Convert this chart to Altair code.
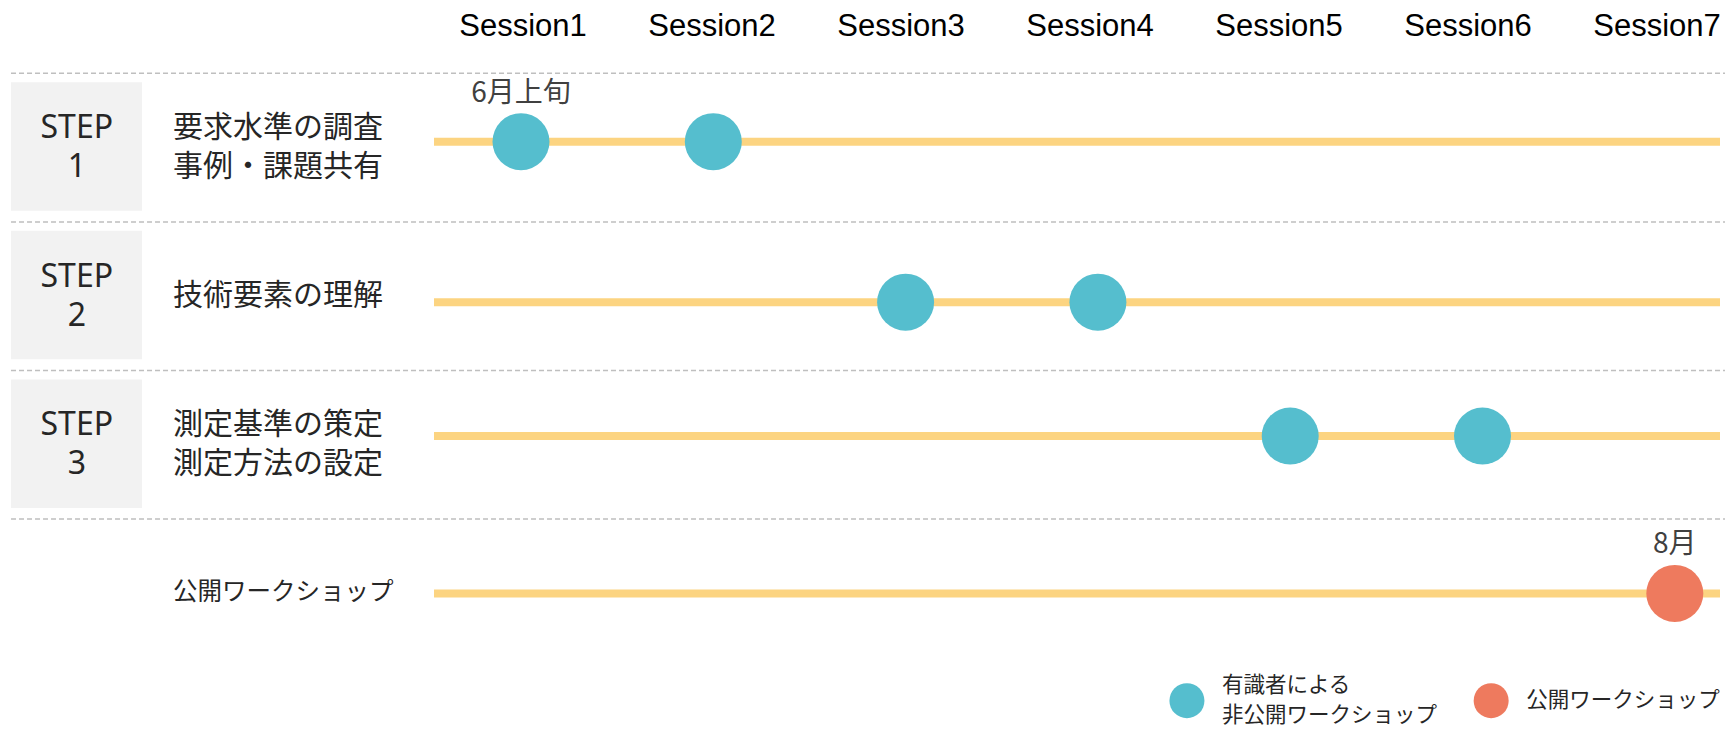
import altair as alt
import pandas as pd

# ---------------- data ----------------
sessions = ["Session1", "Session2", "Session3", "Session4", "Session5", "Session6", "Session7"]
session_index = [1, 2, 3, 4, 5, 6, 7]

row_index = [1, 2, 3, 4]
step_labels = ["STEP\n1", "STEP\n2", "STEP\n3", ""]
row_titles = ["要求水準の調査\n事例・課題共有", "技術要素の理解", "測定基準の策定\n測定方法の設定", "公開ワークショップ"]

event_session = [1, 2, 3, 4, 5, 6, 7]
event_row = [1, 1, 2, 2, 3, 3, 4]
event_kind = ["有識者による\n非公開ワークショップ"] * 6 + ["公開ワークショップ"]
event_note = ["6月上旬", "", "", "", "", "", "8月"]

legend_labels = ["有識者による\n非公開ワークショップ", "公開ワークショップ"]
legend_colors = ["#55BECE", "#EE7A5E"]

# ---------------- layout (scale units) ----------------
PX_PER_ROW = 148.6
X_DOMAIN = [-1.7093, 7.2610]
Y_DOMAIN = [0.0067, 4.9125]
BOX_X = (-1.652, -0.971)
STEP_X = -1.310
TITLE_X = -0.8097
LINE_X = (0.5476, 7.235)
SEP_X = (-1.652, 7.30)
HEADER_Y = 0.1864
HEADER_X0, HEADER_STEP = 1.0104, 0.98284
LEGEND_Y = 4.722
LEGEND_X = [4.463, 6.045]
LANE_SHIFT = "[-0.040, 0.040, -0.059, 0.0]"   # timeline offset inside each row
ROW_LH = 39
LEG_LH = 30

xs = alt.Scale(domain=X_DOMAIN, nice=False, zero=False)
ys = alt.Scale(domain=Y_DOMAIN, nice=False, zero=False, reverse=True)
cscale = alt.Scale(domain=legend_labels, range=legend_colors)

rows = pd.DataFrame({"row": row_index, "step": step_labels, "title": row_titles})
events = pd.DataFrame({"session": event_session, "row": event_row,
                       "kind": event_kind, "note": event_note})
header = pd.DataFrame({"i": session_index, "label": sessions})
legend = pd.DataFrame({"label": legend_labels, "lx": LEGEND_X})

base_rows = alt.Chart(rows)
lane = f"datum.row + {LANE_SHIFT}[datum.row - 1]"


# y of first line so that a multi-line block is centred on the anchor
def centred(field, lh, anchor):
    return (f"{anchor} - (length(split(datum.{field}, '\\n')) - 1) * "
            f"{lh / PX_PER_ROW / 2}")


separators = base_rows.mark_rule(stroke="#BFBFBF", strokeWidth=1.5, strokeDash=[5, 3]).transform_calculate(
    sy="datum.row - 0.5"
).encode(
    y=alt.Y("sy:Q", scale=ys, axis=None),
    x=alt.X(datum=SEP_X[0], scale=xs, axis=None),
    x2=alt.X2(datum=SEP_X[1]),
)

boxes = base_rows.transform_filter("datum.row <= 3").transform_calculate(
    y0="datum.row - 0.44", y1="datum.row + 0.425"
).mark_rect(fill="#F2F2F2").encode(
    x=alt.X(datum=BOX_X[0], scale=xs, axis=None),
    x2=alt.X2(datum=BOX_X[1]),
    y=alt.Y("y0:Q", scale=ys, axis=None),
    y2="y1:Q",
)

step_text = base_rows.transform_filter("datum.row <= 3").transform_calculate(
    ty=centred("step", ROW_LH, "datum.row")
).mark_text(
    font="Noto Sans", fontSize=32, lineBreak="\n", lineHeight=ROW_LH,
    color="#262626", align="center", baseline="middle"
).encode(
    x=alt.X(datum=STEP_X, scale=xs, axis=None),
    y=alt.Y("ty:Q", scale=ys, axis=None),
    text="step:N",
)

titles = base_rows.transform_calculate(
    ty=centred("title", ROW_LH, "datum.row")
).mark_text(
    font="Noto Sans CJK JP", lineBreak="\n", lineHeight=ROW_LH,
    color="#262626", align="left", baseline="middle"
).encode(
    x=alt.X(datum=TITLE_X, scale=xs, axis=None),
    y=alt.Y("ty:Q", scale=ys, axis=None),
    text="title:N",
    size=alt.condition("datum.row == 4", alt.value(24.5), alt.value(30)),
)

lines = base_rows.transform_calculate(ly=lane).mark_rule(
    stroke="#FCD481", strokeWidth=8, strokeCap="butt"
).encode(
    x=alt.X(datum=LINE_X[0], scale=xs, axis=None),
    x2=alt.X2(datum=LINE_X[1]),
    y=alt.Y("ly:Q", scale=ys, axis=None),
)

ev = alt.Chart(events).transform_calculate(ly=lane)

dots = ev.mark_circle(size=3249, opacity=1).encode(
    x=alt.X("session:Q", scale=xs, axis=None),
    y=alt.Y("ly:Q", scale=ys, axis=None),
    color=alt.Color("kind:N", scale=cscale, legend=None),
)

notes = ev.mark_text(
    font="Noto Sans CJK JP", fontSize=28, color="#404040", dy=-48, baseline="middle"
).encode(
    x=alt.X("session:Q", scale=xs, axis=None),
    y=alt.Y("ly:Q", scale=ys, axis=None),
    text="note:N",
)

head = alt.Chart(header).transform_calculate(
    hx=f"{HEADER_X0} + {HEADER_STEP} * (datum.i - 1)"
).mark_text(
    font="Liberation Sans", fontSize=31, color="#000000", baseline="middle"
).encode(
    x=alt.X("hx:Q", scale=xs, axis=None),
    y=alt.Y(datum=HEADER_Y, scale=ys, axis=None),
    text="label:N",
)

leg_dots = alt.Chart(legend).mark_circle(size=1225, opacity=1).encode(
    x=alt.X("lx:Q", scale=xs, axis=None),
    y=alt.Y(datum=LEGEND_Y, scale=ys, axis=None),
    color=alt.Color("label:N", scale=cscale, legend=None),
)

leg_text = alt.Chart(legend).transform_calculate(
    ty=centred("label", LEG_LH, LEGEND_Y)
).mark_text(
    font="Noto Sans CJK JP", fontSize=21.5, lineBreak="\n", lineHeight=LEG_LH,
    color="#262626", align="left", baseline="middle", dx=35
).encode(
    x=alt.X("lx:Q", scale=xs, axis=None),
    y=alt.Y("ty:Q", scale=ys, axis=None),
    text="label:N",
)

chart = alt.layer(
    separators, boxes, step_text, titles, lines, dots, notes, head, leg_dots, leg_text
).properties(
    width=1725, height=729, padding=0,
    autosize=alt.AutoSizeParams(type="none"),
    background="white",
).configure_view(stroke=None)

chart.save("out.html", embed_options={"renderer": "svg", "actions": False})
